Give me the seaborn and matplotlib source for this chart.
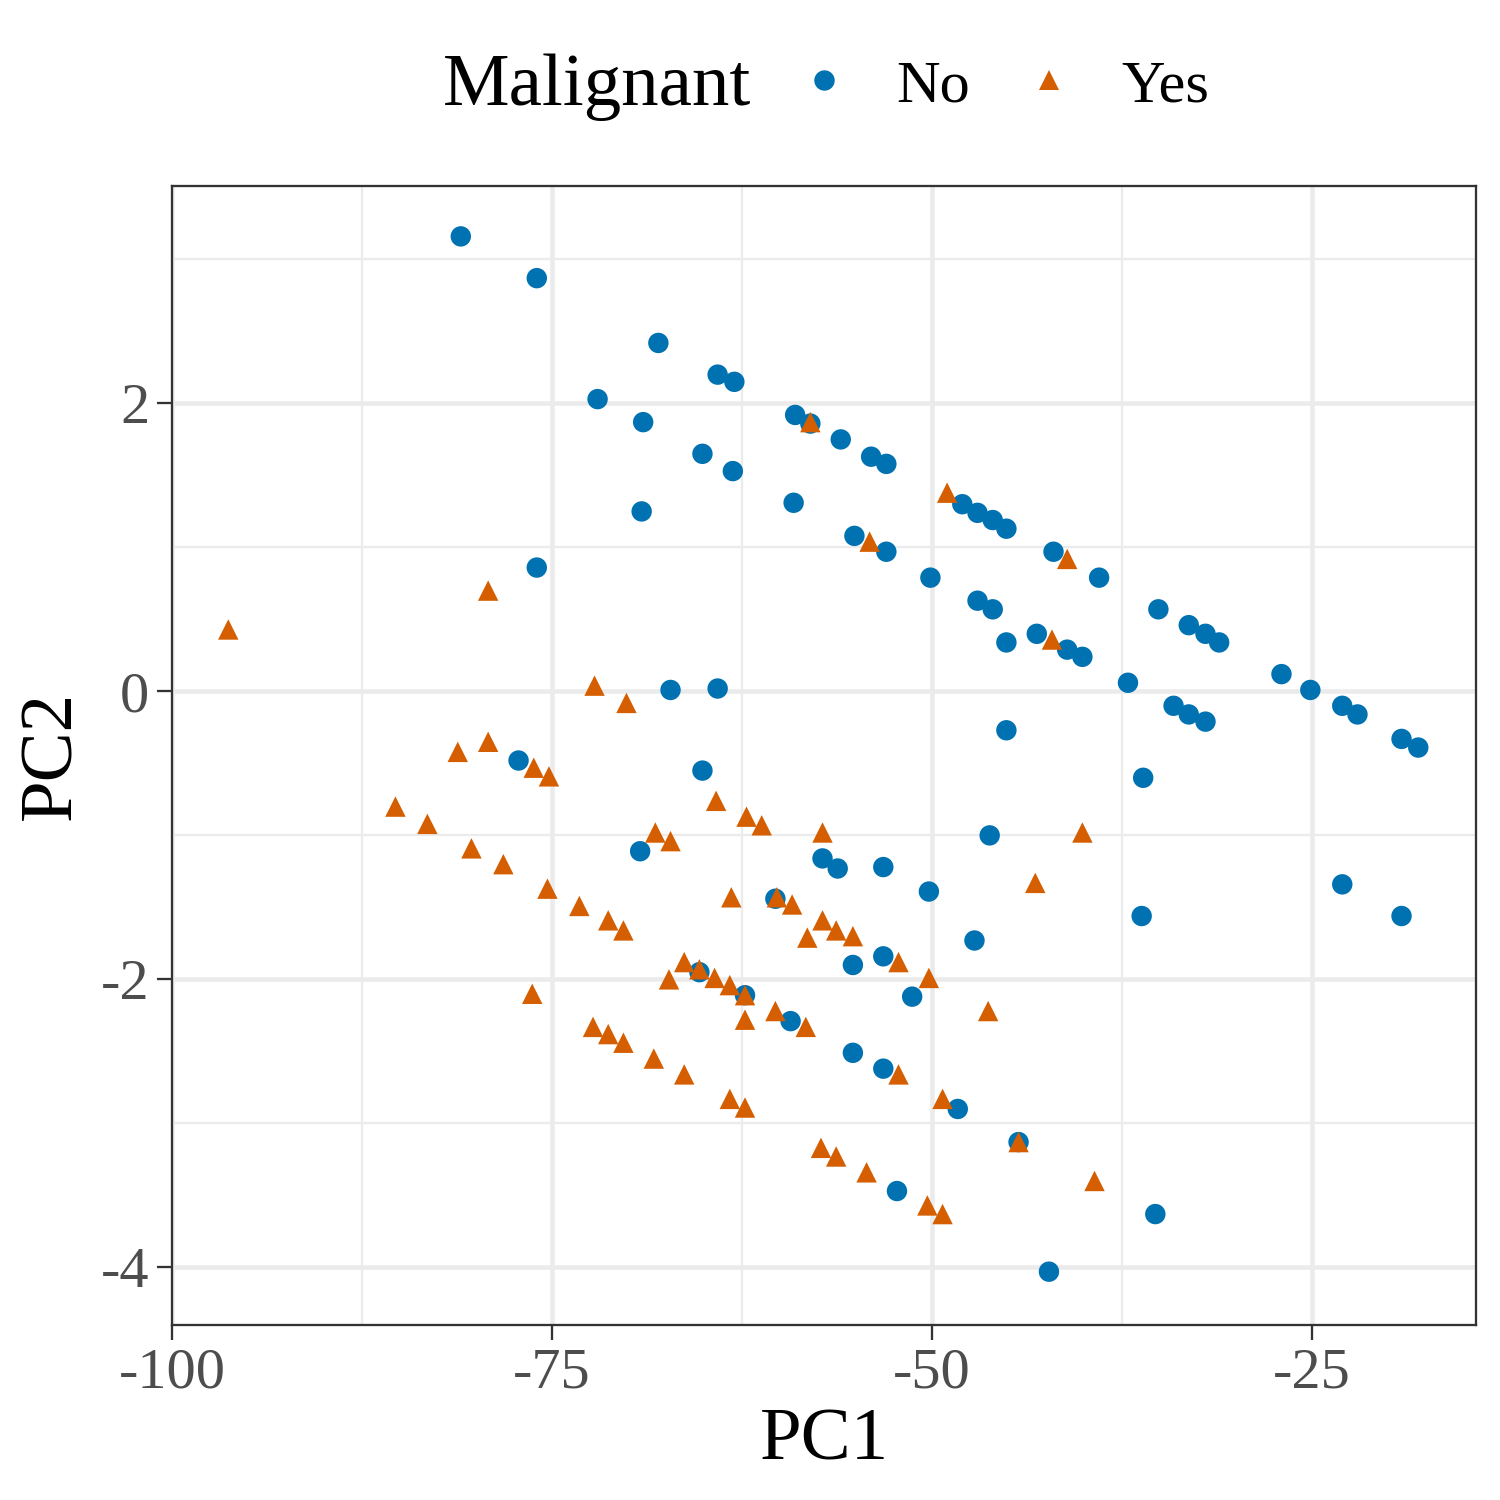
import numpy as np
import pandas as pd
import matplotlib
matplotlib.use("Agg")
import matplotlib.pyplot as plt
import seaborn as sns

# PCA scores
no_pc1 = [-81.0, -76.0, -68.0, -64.1, -63.0, -72.0, -69.0, -59.0, -58.0, -65.1,
          -63.1, -56.0, -54.0, -53.0, -69.1, -59.1, -48.0, -47.0, -46.0, -45.1,
          -55.1, -53.0, -42.0, -50.1, -39.0, -76.0, -47.0, -46.0, -35.1, -33.1,
          -32.0, -31.1, -45.1, -43.1, -41.1, -40.1, -37.1, -27.0, -25.1, -23.0,
          -22.0, -19.1, -18.0, -34.1, -33.1, -32.0, -67.2, -64.1, -45.1, -36.1,
          -77.2, -65.1, -69.2, -46.2, -57.2, -56.2, -53.2, -60.3, -50.2, -47.2,
          -36.2, -23.0, -19.1, -55.2, -53.2, -65.3, -62.3, -51.3, -59.3, -55.2,
          -53.2, -48.3, -44.3, -52.3, -35.3, -42.3]
no_pc2 = [3.16, 2.87, 2.42, 2.20, 2.15, 2.03, 1.87, 1.92, 1.86, 1.65,
          1.53, 1.75, 1.63, 1.58, 1.25, 1.31, 1.30, 1.24, 1.19, 1.13,
          1.08, 0.97, 0.97, 0.79, 0.79, 0.86, 0.63, 0.57, 0.57, 0.46,
          0.40, 0.34, 0.34, 0.40, 0.29, 0.24, 0.06, 0.12, 0.01, -0.10,
          -0.16, -0.33, -0.39, -0.10, -0.16, -0.21, 0.01, 0.02, -0.27, -0.60,
          -0.48, -0.55, -1.11, -1.00, -1.16, -1.23, -1.22, -1.44, -1.39, -1.73,
          -1.56, -1.34, -1.56, -1.90, -1.84, -1.95, -2.11, -2.12, -2.29, -2.51,
          -2.62, -2.90, -3.13, -3.47, -3.63, -4.03]

yes_pc1 = [-96.3, -79.2, -72.2, -70.1, -81.2, -79.2, -76.2, -75.2, -85.3, -83.2,
           -80.3, -78.2, -75.3, -73.2, -71.3, -70.3, -76.3, -72.3, -71.3, -70.3,
           -68.3, -66.3, -63.3, -62.3, -64.2, -62.2, -61.2, -68.2, -67.2, -57.2,
           -63.2, -60.2, -59.2, -57.2, -56.3, -55.2, -58.2, -52.2, -66.3, -65.3,
           -67.3, -64.3, -63.3, -62.3, -62.3, -60.3, -58.3, -50.2, -46.3, -43.2,
           -40.1, -52.2, -49.3, -44.3, -57.3, -56.3, -54.3, -50.3, -49.3, -39.3,
           -58.0, -49.0, -54.1, -41.1, -42.1]
yes_pc2 = [0.43, 0.70, 0.04, -0.08, -0.42, -0.35, -0.53, -0.59, -0.80, -0.92,
           -1.09, -1.20, -1.37, -1.49, -1.59, -1.66, -2.10, -2.33, -2.38, -2.44,
           -2.55, -2.66, -2.83, -2.89, -0.76, -0.87, -0.93, -0.98, -1.04, -0.98,
           -1.43, -1.43, -1.48, -1.59, -1.66, -1.70, -1.71, -1.88, -1.88, -1.93,
           -2.00, -1.99, -2.04, -2.11, -2.28, -2.22, -2.33, -1.99, -2.22, -1.33,
           -0.98, -2.66, -2.83, -3.13, -3.17, -3.23, -3.34, -3.57, -3.63, -3.40,
           1.87, 1.38, 1.04, 0.92, 0.36]

groups = ["No", "Yes"]
x_ticks = [-100, -75, -50, -25]
y_ticks = [-4, -2, 0, 2]

df = pd.DataFrame({
    "PC1": no_pc1 + yes_pc1,
    "PC2": no_pc2 + yes_pc2,
    "Malignant": ["No"] * len(no_pc1) + ["Yes"] * len(yes_pc1),
})

sns.set_theme(style="white")
plt.rcParams["font.family"] = ["Liberation Serif", "DejaVu Serif"]
plt.rcParams["axes.unicode_minus"] = False
plt.rcParams["text.color"] = "black"

fig = plt.figure(figsize=(5, 5), dpi=300)
ax = fig.add_axes([0.1147, 0.1167, 0.8693, 0.7593])

palette = {"No": "#0072B2", "Yes": "#D55E00"}
markers = {"No": "o", "Yes": "^"}
sns.scatterplot(data=df, x="PC1", y="PC2", hue="Malignant", style="Malignant",
                hue_order=groups, style_order=groups, palette=palette,
                markers=markers, s=24, linewidth=0, ax=ax, zorder=3)

ax.set_xticks(x_ticks)
ax.set_yticks(y_ticks)
ax.set_xticks([-87.5, -62.5, -37.5, -12.5], minor=True)
ax.set_yticks([-3, -1, 1, 3], minor=True)
ax.set_xlim(-100, -14.2)
ax.set_ylim(-4.40, 3.51)
ax.grid(which="major", color="#EBEBEB", linewidth=1.1, zorder=0)
ax.grid(which="minor", color="#EBEBEB", linewidth=0.55, zorder=0)
ax.set_axisbelow(True)
for sp in ax.spines.values():
    sp.set_color("#333333")
    sp.set_linewidth(0.55)
ax.tick_params(which="major", direction="out", length=3.5, width=0.55,
               color="#333333", labelcolor="#4D4D4D", labelsize=14, pad=2,
               bottom=True, left=True)
ax.tick_params(which="minor", length=0)
ax.set_xlabel("PC1", fontsize=18, color="black")
ax.set_ylabel("PC2", fontsize=18, color="black")
ax.xaxis.set_label_coords(0.5, -0.073)
ax.yaxis.set_label_coords(-0.066, 0.5)

handles, labels = ax.get_legend_handles_labels()
ax.get_legend().remove()
fig.text(0.3983, 0.942, "Malignant", fontsize=18, ha="center", va="center",
         color="black")
fig.legend(handles, labels, ncol=2, loc="center left",
           bbox_to_anchor=(0.529, 0.942), frameon=False, fontsize=14.5,
           markerscale=1.0, handlelength=1.0, handletextpad=0.7,
           columnspacing=0.8, borderaxespad=0, borderpad=0,
           labelcolor="black")

fig.savefig("out.png", dpi=300)
